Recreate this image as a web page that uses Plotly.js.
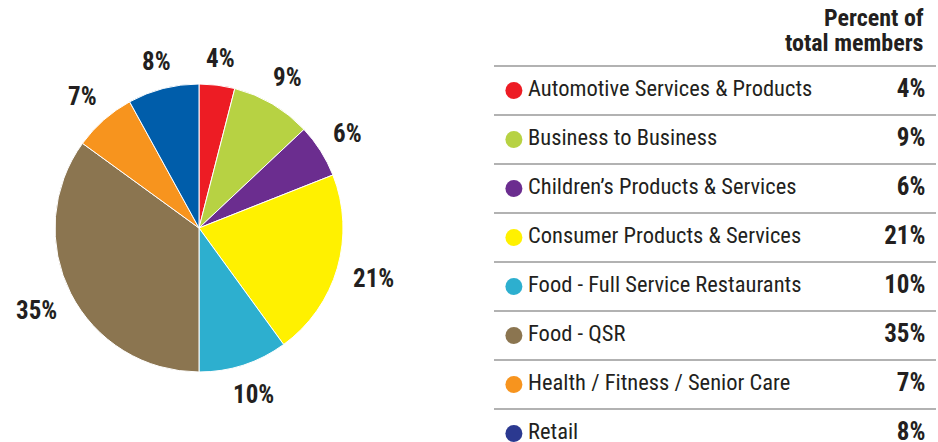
<!DOCTYPE html>
<html>
<head>
<meta charset="utf-8">
<script src="https://cdn.plot.ly/plotly-3.0.1.min.js"></script>
<style>html,body{margin:0;padding:0;background:#fff;}#chart{width:938px;height:442px;}</style>
</head>
<body>
<div id="chart"></div>
<script>
const categories = [
  "Automotive Services & Products",
  "Business to Business",
  "Children\u2019s Products & Services",
  "Consumer Products & Services",
  "Food - Full Service Restaurants",
  "Food - QSR",
  "Health / Fitness / Senior Care",
  "Retail"
];
const percents = [4, 9, 6, 21, 10, 35, 7, 8];
const sliceColors = ["#ED1C24", "#B7D243", "#6B2D8F", "#FFF100", "#2DAFCF", "#8B7550", "#F7941E", "#005DAA"];
const legendColors = ["#ED1C24", "#B7D243", "#6B2D8F", "#FFF100", "#2DAFCF", "#8B7550", "#F7941E", "#2B3990"];
const headerLines = ["Percent of", "total members"];

const FONT = "'Liberation Sans Narrow', 'Arial Narrow', 'Roboto Condensed', Roboto, sans-serif";
const pctLabels = percents.map(v => v + "%");
const rows = categories.map((c, i) => i);

const W = 938, H = 442;
const cx = 199, cy = 228, R = 144;

const pie = {
  type: "pie",
  values: percents,
  labels: categories,
  textinfo: "none",
  sort: false,
  direction: "clockwise",
  rotation: 0,
  marker: {colors: sliceColors, line: {color: "#ffffff", width: 1}},
  domain: {x: [(cx - R) / W, (cx + R) / W], y: [(H - cy - R) / H, (H - cy + R) / H]},
  showlegend: false,
  hoverinfo: "label+percent"
};

// slice labels placed just outside each slice's mid-angle
const total = percents.reduce((a, b) => a + b, 0);
let cum = 0;
const sliceAnnotations = percents.map((v, i) => {
  const mid = (cum + v / 2) / total * 2 * Math.PI;
  cum += v;
  const s = Math.sin(mid), c = Math.cos(mid);
  const hw = pctLabels[i].length * 7, hh = 10, gap = 15;
  const r = R + gap + Math.abs(s) * hw + Math.abs(c) * hh;
  const px = cx + r * s, py = cy - r * c;
  return {
    xref: "paper", yref: "paper", x: px / W, y: (H - py) / H,
    xanchor: "center", yanchor: "middle", showarrow: false,
    text: pctLabels[i],
    font: {family: FONT, size: 25, color: "#231F20", weight: "bold"}
  };
});

const markers = {
  type: "scatter", mode: "markers",
  x: rows.map(() => 0.045), y: rows,
  xaxis: "x", yaxis: "y",
  marker: {size: 17, color: legendColors},
  showlegend: false, hoverinfo: "skip"
};
const names = {
  type: "scatter", mode: "text",
  x: rows.map(() => 0.077), y: rows,
  xaxis: "x", yaxis: "y",
  text: categories, textposition: "middle right",
  textfont: {family: FONT, size: 22.5, color: "#231F20"},
  showlegend: false, hoverinfo: "skip"
};
const pcts = {
  type: "scatter", mode: "text",
  x: rows.map(() => 0.976), y: rows,
  xaxis: "x", yaxis: "y",
  text: pctLabels, textposition: "middle left",
  textfont: {family: FONT, size: 25, color: "#231F20", weight: "bold"},
  showlegend: false, hoverinfo: "skip"
};

const shapes = rows.map(i => ({
  type: "line", xref: "x", yref: "y",
  x0: 0, x1: 1, y0: i - 0.5, y1: i - 0.5,
  line: {color: "#999999", width: 1.5}
}));

const rowTop = 90.5, rowH = 49;
const headerAnnotations = headerLines.map((t, k) => ({
  xref: "x", yref: "y", x: 0.978, y: (18 + 25 * k - rowTop) / rowH,
  text: t, showarrow: false, xanchor: "right", yanchor: "middle", align: "right",
  font: {family: FONT, size: 24, color: "#231F20", weight: "bold"}
}));

const layout = {
  width: W, height: H,
  margin: {l: 0, r: 0, t: 0, b: 0},
  paper_bgcolor: "#ffffff", plot_bgcolor: "rgba(0,0,0,0)",
  xaxis: {domain: [494 / W, 936 / W], range: [0, 1], visible: false, fixedrange: true},
  yaxis: {domain: [0, 1], range: [(H - rowTop) / rowH, -rowTop / rowH], visible: false, fixedrange: true},
  shapes: shapes,
  annotations: headerAnnotations.concat(sliceAnnotations)
};

Plotly.newPlot("chart", [pie, markers, names, pcts], layout, {displayModeBar: false, staticPlot: true});
</script>
</body>
</html>
